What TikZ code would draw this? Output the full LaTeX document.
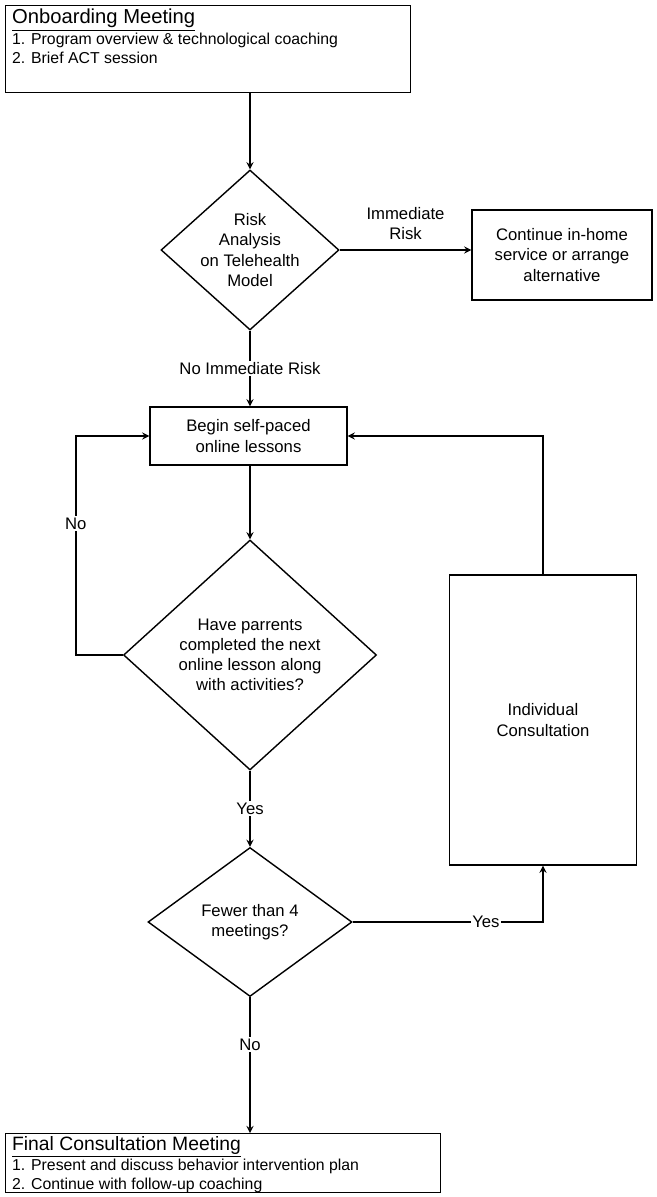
\documentclass[tikz,border=0pt]{standalone}
\usepackage{fontspec}
\setmainfont{Liberation Sans}
\usetikzlibrary{shapes.geometric,arrows,positioning}

\begin{document}
\begin{tikzpicture}[
        every node/.style={font=\fontsize{9.5}{11.5}\selectfont},
        task/.style={rectangle, draw, thick, align=center, inner sep=2pt},
        meeting/.style={rectangle, draw, thick, align=left, anchor=north west, inner sep=0pt},
        notes/.style={anchor=north west, align=left, inner sep=1pt, font=\fontsize{9}{10.8}\selectfont},
        choice/.style={diamond, draw, thick, align=center, inner sep=-3pt},
        arrow/.style={thick,->,>=stealth},
        lbl/.style={fill=white, inner sep=1pt}
    ]
        \useasboundingbox (0,0) rectangle (13.14,-23.94);
        % Meetings
        \node[meeting, minimum width=8.1cm, minimum height=1.74cm] (onboard) at (0.1,-0.1) {};
        \node[notes] at (0.2,-0.14) {{\fontsize{11.5}{13}\selectfont\underline{Onboarding Meeting}}\\
            1. Program overview \& technological coaching\\2. Brief ACT session};
        \node[meeting, minimum width=8.7cm, minimum height=1.18cm] (final) at (0.1,-22.66) {};
        \node[notes] at (0.2,-22.68) {{\fontsize{11}{12}\selectfont\underline{Final Consultation Meeting}}\\
            1. Present and discuss behavior intervention plan\\2. Continue with follow-up coaching};

        % Decisions
        \node[choice, minimum width=3.56cm, minimum height=3.2cm] (risk) at (5,-5) {Risk\\Analysis\\on Telehealth\\Model};
        \node[choice, minimum width=5.06cm, minimum height=4.6cm] (done) at (5,-13.1) {Have parrents\\completed the next\\online lesson along\\with activities?};
        \node[choice, minimum width=4.08cm, minimum height=2.98cm] (fewer) at (5,-18.44) {Fewer than 4\\meetings?};

        % Steps
        \node[task, minimum width=3.6cm, minimum height=1.8cm] (inhome) at (11.24,-5.1) {Continue in-home\\service or arrange\\alternative};
        \node[task, minimum width=3.94cm, minimum height=1.16cm] (lessons) at (4.97,-8.72) {Begin self-paced\\online lessons};
        \node[task, minimum width=3.74cm, minimum height=5.8cm] (consult) at (10.86,-14.4) {Individual\\Consultation};

        % Connections
        \draw[arrow] (onboard.south -| risk) -- (risk.north);
        \draw[arrow] (risk.east) -- node[above=2pt, align=center] {Immediate\\Risk} (inhome.west |- risk.east);
        \draw[arrow] (risk.south) -- node[lbl] {No Immediate Risk} (lessons.north -| risk);
        \draw[arrow] (lessons.south -| done) -- (done.north);
        \draw[arrow] (done.west) -- ++(-0.94,0) |- node[pos=0.3, lbl] {No} (lessons.west);
        \draw[arrow] (done.south) -- node[lbl] {Yes} (fewer.north);
        \draw[arrow] (fewer.east) -| node[pos=0.35, lbl] {Yes} (consult.south);
        \draw[arrow] (consult.north) |- (lessons.east);
        \draw[arrow] (fewer.south) -- node[pos=0.35, lbl] {No} (final.north -| fewer);
    \end{tikzpicture}
\end{document}
